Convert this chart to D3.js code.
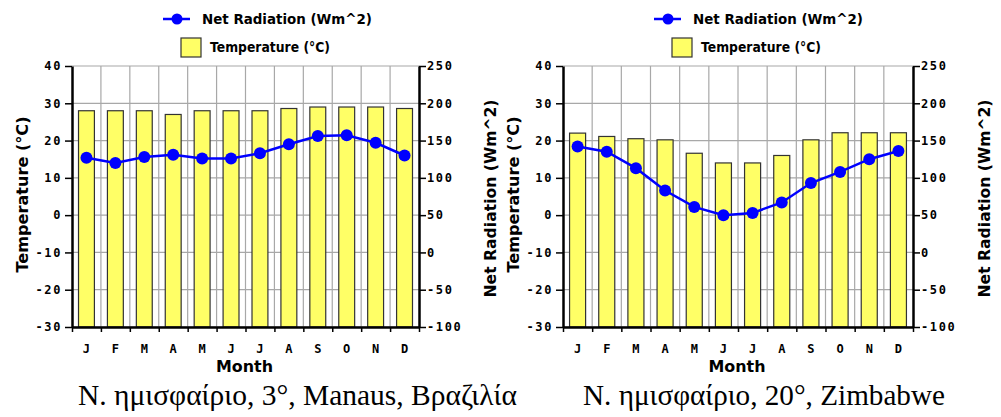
<!DOCTYPE html>
<html lang="el">
<head>
<meta charset="UTF-8">
<title>Net Radiation and Temperature</title>
<style>
    body { margin: 0; background: #ffffff; }
    svg text { fill: #000; }
    .tick-label { font-family: 'DejaVu Sans Mono', monospace; font-weight: bold; font-size: 12px; letter-spacing: 1.6px; }
    .title { font-family: 'DejaVu Sans', sans-serif; font-weight: bold; font-size: 15px; }
    .legend { font-family: 'DejaVu Sans', sans-serif; font-weight: bold; font-size: 14px; }
    .caption { font-family: 'Liberation Serif', 'Times New Roman', serif; font-size: 29px; }
</style>
</head>
<body>
<svg id="chart" width="1001" height="417"></svg>
<script src="https://d3js.org/d3.v7.min.js"></script>
<script>
  // month letters along the bottom
  const months = ["J", "F", "M", "A", "M", "J", "J", "A", "S", "O", "N", "D"];

  // Manaus, Brazil (3°)
  const manausTemp = [28, 28, 28, 27, 28, 28, 28, 28.6, 29, 29, 29, 28.6];
  const manausRad = [127, 120, 128, 131, 126, 126, 133, 145, 156, 157, 147, 130];

  // Zimbabwe (20°)
  const zimTemp = [22, 21.1, 20.5, 20.2, 16.6, 14, 14, 16, 20.2, 22.1, 22.1, 22.1];
  const zimRad = [142, 135, 113, 83, 61, 50, 53, 67, 93, 108, 125, 136];

  // axis ticks
  const tempTicks = [-30, -20, -10, 0, 10, 20, 30, 40];
  const radTicks = [-100, -50, 0, 50, 100, 150, 200, 250];

  const captions = ["N. ημισφαίριο, 3°, Manaus, Βραζιλία", "N. ημισφαίριο, 20°, Zimbabwe"];

  const svg = d3.select("#chart");

  function drawPanel(opts) {
    const { x0, x1, temp, rad, caption, captionX, captionW } = opts;
    const top = 66, bottom = 327;
    const g = svg.append("g");

    const x = d3.scaleBand().domain(d3.range(12)).range([x0, x1]).paddingInner(0.45).paddingOuter(0.225);
    const xEdge = d3.scaleLinear().domain([0, 12]).range([x0, x1]);
    const yT = d3.scaleLinear().domain([-30, 40]).range([bottom, top]);
    const yR = d3.scaleLinear().domain([-100, 250]).range([bottom, top]);

    // grid
    g.append("g").selectAll("line.h").data(tempTicks).join("line")
      .attr("x1", x0).attr("x2", x1)
      .attr("y1", d => yT(d)).attr("y2", d => yT(d))
      .attr("stroke", "#a8a8a8").attr("stroke-width", 1.2);
    g.append("g").selectAll("line.v").data(d3.range(1, 12)).join("line")
      .attr("x1", d => xEdge(d)).attr("x2", d => xEdge(d))
      .attr("y1", top).attr("y2", bottom)
      .attr("stroke", "#a8a8a8").attr("stroke-width", 1.2);

    // bars
    g.append("g").selectAll("rect").data(temp).join("rect")
      .attr("x", (d, i) => x(i))
      .attr("width", x.bandwidth())
      .attr("y", d => yT(d))
      .attr("height", d => yT(-30) - yT(d))
      .attr("fill", "#ffff66")
      .attr("stroke", "#333")
      .attr("stroke-width", 1.2);

    // left axis
    const left = g.append("g").attr("transform", `translate(${x0},0)`);
    left.call(d3.axisLeft(yT).tickValues(d3.range(-30, 41, 2)).tickSize(4).tickFormat(""));
    left.call(d3.axisLeft(yT).tickValues(tempTicks).tickSize(7).tickSizeOuter(0).tickPadding(3).tickFormat(d => String(d)));
    left.selectAll("text").attr("class", "tick-label").attr("font-family", null).attr("font-size", null);
    left.selectAll("line").attr("stroke", "#000").attr("stroke-width", 1.5);
    left.select(".domain").attr("stroke", "#000").attr("stroke-width", 2.5);

    // right axis
    const right = g.append("g").attr("transform", `translate(${x1},0)`);
    right.call(d3.axisRight(yR).tickValues(d3.range(-100, 251, 10)).tickSize(4).tickFormat(""));
    right.call(d3.axisRight(yR).tickValues(radTicks).tickSize(7).tickSizeOuter(0).tickPadding(1).tickFormat(d => String(d)));
    right.selectAll("text").attr("class", "tick-label").attr("font-family", null).attr("font-size", null);
    right.selectAll("line").attr("stroke", "#000").attr("stroke-width", 1.5);
    right.select(".domain").attr("stroke", "#000").attr("stroke-width", 2.5);

    // bottom axis
    const bot = g.append("g").attr("transform", `translate(0,${bottom})`);
    bot.call(d3.axisBottom(xEdge).tickValues(d3.range(13)).tickSize(5).tickSizeOuter(0).tickFormat(""));
    bot.selectAll("line").attr("stroke", "#000").attr("stroke-width", 1.5);
    bot.select(".domain").attr("stroke", "#000").attr("stroke-width", 2.5);
    const lab = g.append("g").attr("transform", `translate(0,${bottom})`)
      .call(d3.axisBottom(x).tickSize(0).tickPadding(17).tickFormat(i => months[i]));
    lab.select(".domain").remove();
    lab.selectAll("text").attr("class", "tick-label").attr("font-family", null)
      .style("letter-spacing", "0px").attr("font-size", 13);

    // net radiation line
    g.append("path").datum(rad)
      .attr("fill", "none").attr("stroke", "#0000ff").attr("stroke-width", 2.5)
      .attr("d", d3.line().x((d, i) => x(i) + x.bandwidth() / 2).y(d => yR(d)));
    g.append("g").selectAll("circle").data(rad).join("circle")
      .attr("cx", (d, i) => x(i) + x.bandwidth() / 2)
      .attr("cy", d => yR(d)).attr("r", 6).attr("fill", "#0000ff");

    // axis titles
    const midY = (top + bottom) / 2;
    g.append("text").attr("class", "title").attr("text-anchor", "middle")
      .attr("textLength", 156).attr("lengthAdjust", "spacingAndGlyphs")
      .attr("transform", `translate(${x0 - 44},${midY - 2}) rotate(-90)`).text("Temperature (°C)");
    g.append("text").attr("class", "title").attr("text-anchor", "middle")
      .attr("textLength", 198).attr("lengthAdjust", "spacingAndGlyphs")
      .attr("transform", `translate(${x1 + 77},${midY + 2}) rotate(-90)`).text("Net Radiation (Wm^2)");
    g.append("text").attr("class", "title").attr("text-anchor", "middle")
      .attr("textLength", 57).attr("lengthAdjust", "spacingAndGlyphs")
      .attr("x", (x0 + x1) / 2 - 1).attr("y", 372).text("Month");

    // legend
    const lx = x0 + 91;
    g.append("line").attr("x1", lx).attr("x2", lx + 27).attr("y1", 19).attr("y2", 19)
      .attr("stroke", "#0000ff").attr("stroke-width", 2.5);
    g.append("circle").attr("cx", lx + 14).attr("cy", 19).attr("r", 5.5).attr("fill", "#0000ff");
    g.append("text").attr("class", "legend").attr("x", lx + 39).attr("y", 24)
      .attr("textLength", 170).attr("lengthAdjust", "spacingAndGlyphs").text("Net Radiation (Wm^2)");
    g.append("rect").attr("x", lx + 18).attr("y", 38).attr("width", 20).attr("height", 19)
      .attr("fill", "#ffff66").attr("stroke", "#333").attr("stroke-width", 1.2);
    g.append("text").attr("class", "legend").attr("x", lx + 47).attr("y", 52)
      .attr("textLength", 120).attr("lengthAdjust", "spacingAndGlyphs").text("Temperature (°C)");

    // caption
    g.append("text").attr("class", "caption").attr("x", captionX).attr("y", 405)
      .attr("textLength", captionW).attr("lengthAdjust", "spacingAndGlyphs").text(caption);
  }

  drawPanel({ x0: 72, x1: 419, temp: manausTemp, rad: manausRad, caption: captions[0], captionX: 78, captionW: 439 });
  drawPanel({ x0: 563, x1: 913, temp: zimTemp, rad: zimRad, caption: captions[1], captionX: 583, captionW: 362 });
</script>
</body>
</html>
